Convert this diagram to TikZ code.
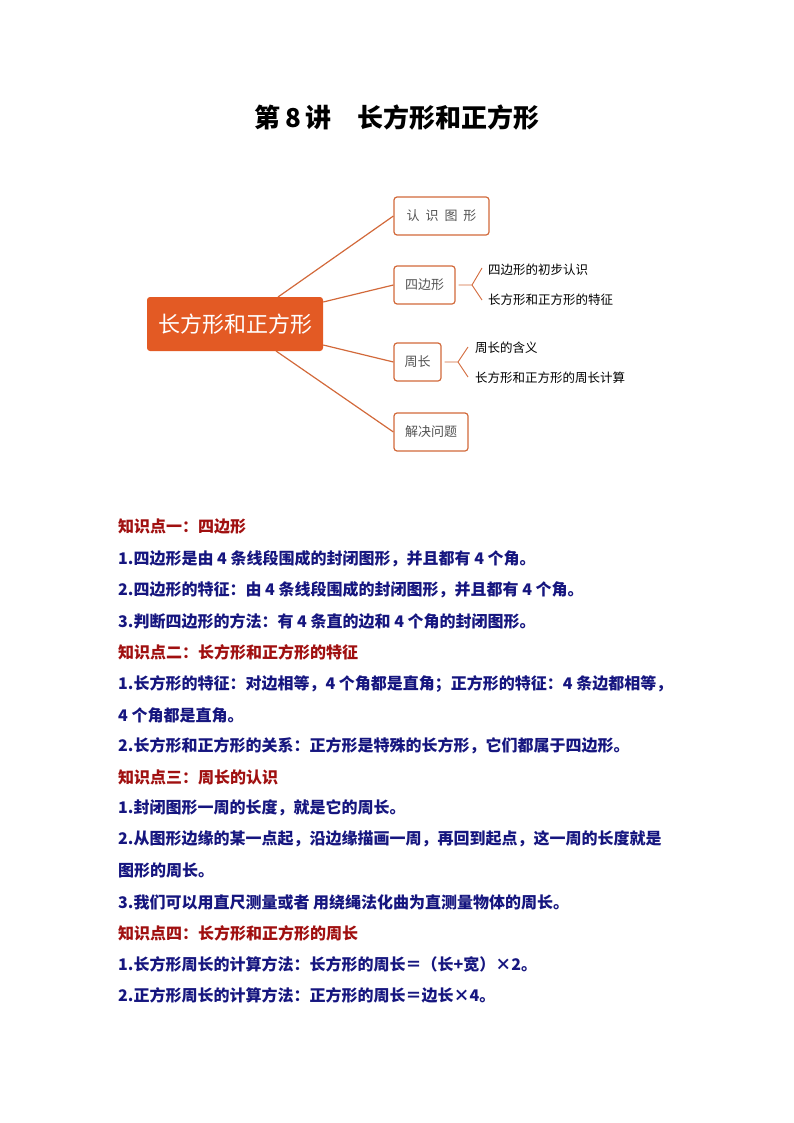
\documentclass[tikz,border=0pt]{standalone}
\usepackage{fontspec}
\setmainfont{Noto Sans CJK SC}
\begin{document}
\begin{tikzpicture}[x=1pt,y=-1pt,
  ob/.style={draw=brdr,line width=1.2pt,rounded corners=3pt,fill=white,text=gray!20!black!75,font=\fontsize{13}{15}\selectfont,inner sep=0pt},
  br/.style={draw=brdr,line width=1.2pt},
  sub/.style={anchor=west,font=\fontsize{12.5}{14}\selectfont,inner sep=0pt},
  hd/.style={anchor=west,font=\bfseries\fontsize{16}{19}\selectfont,text=hdc,inner sep=0pt},
  bd/.style={anchor=west,font=\bfseries\fontsize{16}{19}\selectfont,text=bdc,inner sep=0pt}]
\definecolor{brdr}{HTML}{D2693A}
\definecolor{mainc}{HTML}{E35A24}
\definecolor{hdc}{HTML}{A01010}
\definecolor{bdc}{HTML}{16167F}
\useasboundingbox (0,0) rectangle (794,1123);
\node[font=\bfseries\fontsize{26}{30}\selectfont] (title) at (397,118) {第\,8\,讲\quad 长方形和正方形};
\node[fill=mainc,rounded corners=3pt,minimum width=176pt,minimum height=54pt,text=white,font=\fontsize{22}{26}\selectfont,inner sep=0pt] (c) at (235,324) {长方形和正方形};
\node[ob,minimum width=95pt,minimum height=38pt] (b1) at (441.5,216) {认\hspace{6pt}识\hspace{6pt}图\hspace{6pt}形};
\node[ob,minimum width=61pt,minimum height=38pt] (b2) at (424.5,285) {四边形};
\node[ob,minimum width=47pt,minimum height=38pt] (b3) at (417.5,362) {周长};
\node[ob,minimum width=74pt,minimum height=38pt] (b4) at (431,432) {解决问题};
\coordinate (c1) at (278,297); \coordinate (c4) at (276,351);
\draw[br] (c1) -- (b1.west);
\draw[br] (c.east |- 0,302) -- (b2.west);
\draw[br] (c.east |- 0,345) -- (b3.west);
\draw[br] (c4) -- (b4.west);
\coordinate (k2) at (472,285); \coordinate (k3) at (458,362);
\draw[br,line width=0.9pt] (b2.east) ++(3,0) -- (k2) -- (482,268);
\draw[br,line width=0.9pt] (k2) -- (482,300);
\draw[br,line width=0.9pt] (b3.east) ++(3,0) -- (k3) -- (468,347);
\draw[br,line width=0.9pt] (k3) -- (468,377);
\node[sub] (s1) at (488,270) {四边形的初步认识};
\node[sub] (s2) at (488,300) {长方形和正方形的特征};
\node[sub] (s3) at (475,348) {周长的含义};
\node[sub] (s4) at (475,378) {长方形和正方形的周长计算};
\node[hd] (h1) at (118,526) {知识点一：四边形};
\node[bd] (l1) at (118,559) {1.四边形是由 4 条线段围成的封闭图形，并且都有 4 个角。};
\node[bd] (l2) at (118,590) {2.四边形的特征：由 4 条线段围成的封闭图形，并且都有 4 个角。};
\node[bd] (l3) at (118,621) {3.判断四边形的方法：有 4 条直的边和 4 个角的封闭图形。};
\node[hd] (h2) at (118,652) {知识点二：长方形和正方形的特征};
\node[bd] (l4) at (118,684) {1.长方形的特征：对边相等，4 个角都是直角；正方形的特征：4 条边都相等，};
\node[bd] (l5) at (118,715) {4 个角都是直角。};
\node[bd] (l6) at (118,746) {2.长方形和正方形的关系：正方形是特殊的长方形，它们都属于四边形。};
\node[hd] (h3) at (118,777) {知识点三：周长的认识};
\node[bd] (l7) at (118,808) {1.封闭图形一周的长度，就是它的周长。};
\node[bd] (l8) at (118,839) {2.从图形边缘的某一点起，沿边缘描画一周，再回到起点，这一周的长度就是};
\node[bd] (l9) at (118,870) {图形的周长。};
\node[bd] (l10) at (118,902) {3.我们可以用直尺测量或者 用绕绳法化曲为直测量物体的周长。};
\node[hd] (h4) at (118,933) {知识点四：长方形和正方形的周长};
\node[bd] (l11) at (118,964) {1.长方形周长的计算方法：长方形的周长＝（长+宽）×2。};
\node[bd] (l12) at (118,995) {2.正方形周长的计算方法：正方形的周长＝边长×4。};
\end{tikzpicture}
\end{document}
